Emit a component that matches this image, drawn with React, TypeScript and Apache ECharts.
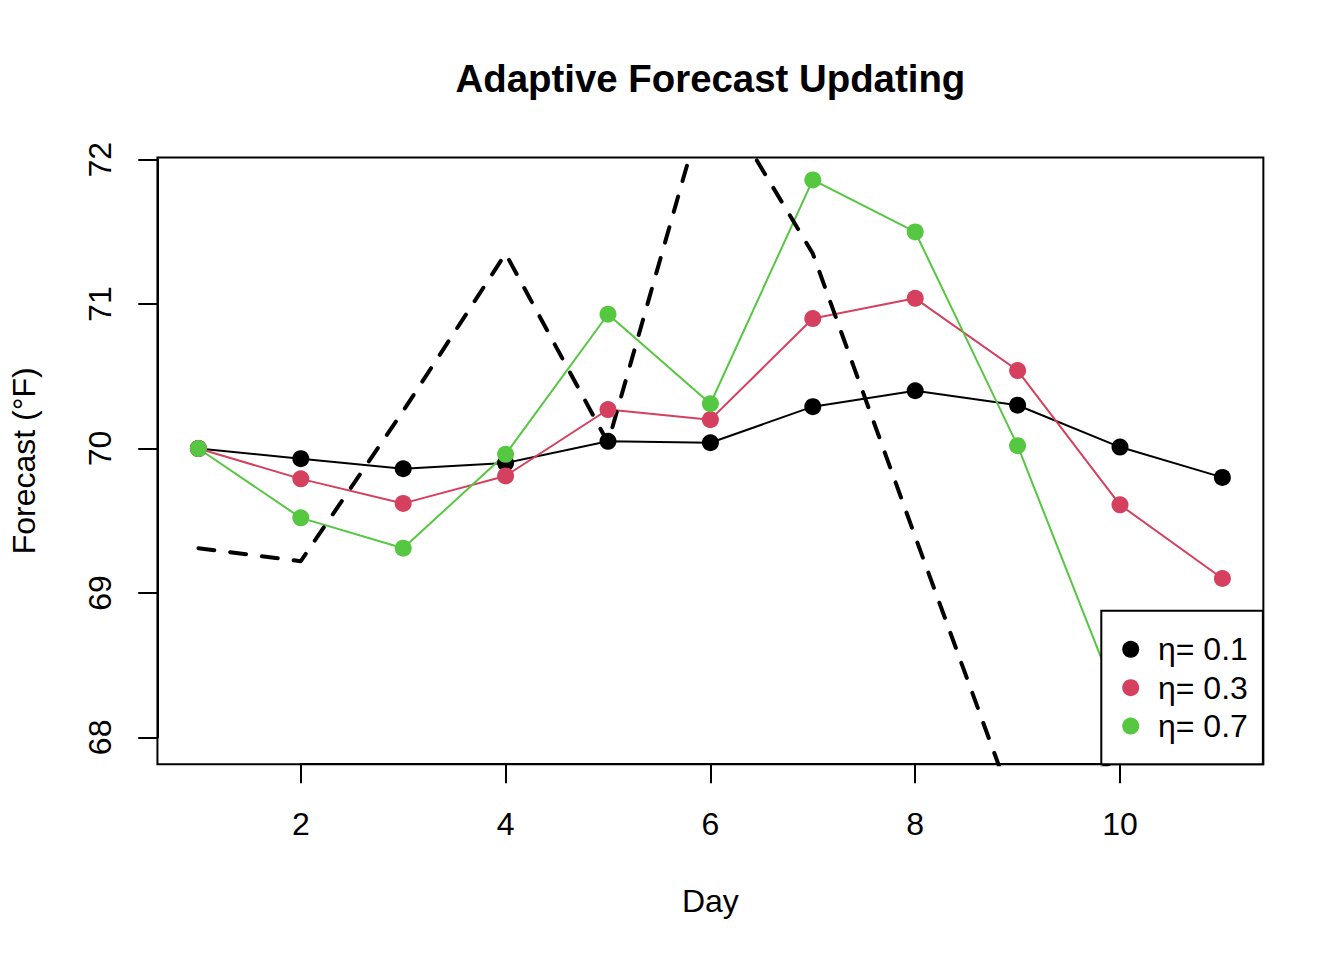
import React, { useEffect, useRef } from "react";
import * as echarts from "echarts";

// ---- data ----
const days = [1, 2, 3, 4, 5, 6, 7, 8, 9, 10, 11];
const eta01 = [70.0, 69.93, 69.86, 69.9, 70.05, 70.04, 70.29, 70.4, 70.3, 70.01, 69.8];
const eta03 = [70.0, 69.79, 69.62, 69.81, 70.27, 70.2, 70.9, 71.04, 70.54, 69.61, 69.1];
const eta07 = [70.0, 69.52, 69.31, 69.96, 70.93, 70.31, 71.86, 71.5, 70.02, 68.22, 67.97];
const actualDays = [1, 2, 3, 4, 5, 6, 7, 8, 9, 10];
const actual = [69.31, 69.22, 70.26, 71.35, 70.04, 72.53, 71.35, 69.39, 67.45, 67.86];
const seriesNames = ["η= 0.1", "η= 0.3", "η= 0.7"];
const seriesColors = ["#000000", "#D5405E", "#55C740"];
const xTicks = [2, 4, 6, 8, 10];
const yTicks = [68, 69, 70, 71, 72];

const FONT = '"Liberation Sans", Arial, Helvetica, sans-serif';

export default function App() {
  const ref = useRef<HTMLDivElement>(null);

  useEffect(() => {
    if (!ref.current) return;
    const chart = echarts.init(ref.current, undefined, { renderer: "svg" });

    const W = 1344;
    const H = 960;
    const LINE = 38.4;
    const plotL = 4.1 * LINE;
    const plotT = 4.1 * LINE;
    const plotR = W - 2.1 * LINE;
    const plotB = H - 5.1 * LINE;

    const xLo = Math.min(...days);
    const xHi = Math.max(...days);
    const xMin = xLo - 0.04 * (xHi - xLo);
    const xMax = xHi + 0.04 * (xHi - xLo);
    const allF = [...eta01, ...eta03, ...eta07];
    const yLo = Math.min(...allF);
    const yHi = Math.max(...allF);
    const yMin = yLo - 0.04 * (yHi - yLo);
    const yMax = yHi + 0.04 * (yHi - yLo);

    const yPix = (v: number) => plotT + ((yMax - v) / (yMax - yMin)) * (plotB - plotT);
    const xPix = (v: number) => plotL + ((v - xMin) / (xMax - xMin)) * (plotR - plotL);

    const yTop = yPix(yTicks[yTicks.length - 1]);
    const yBot = yPix(yTicks[0]);
    const xLeft = xPix(xTicks[0]);
    const xRight = xPix(xTicks[xTicks.length - 1]);

    const axisCommon = {
      axisLine: { show: true, onZero: false, lineStyle: { color: "#000", width: 2 } },
      axisTick: { show: true, length: 19.2, lineStyle: { color: "#000", width: 2 } },
      splitLine: { show: false },
    };

    const legendBoxL = 1101.3;
    const legendBoxT = 610.7;

    const fSeries = [eta01, eta03, eta07].map((vals, k) => ({
      name: seriesNames[k],
      type: "line",
      xAxisIndex: 0,
      yAxisIndex: 0,
      data: days.map((d, i) => [d, vals[i]]),
      symbol: "circle",
      symbolSize: 17,
      lineStyle: { color: seriesColors[k], width: 2, join: "round" },
      itemStyle: { color: seriesColors[k], borderWidth: 0 },
      emphasis: { disabled: true },
      silent: true,
      clip: true,
    }));

    const option: any = {
      animation: false,
      backgroundColor: "#ffffff",
      grid: [
        {
          left: plotL,
          top: plotT,
          width: plotR - plotL,
          height: plotB - plotT,
          show: true,
          borderColor: "#000",
          borderWidth: 2,
          backgroundColor: "transparent",
        },
        { left: plotL, top: yTop, width: plotR - plotL, height: yBot - yTop, show: false },
        { left: xLeft, top: plotT, width: xRight - xLeft, height: plotB - plotT, show: false },
      ],
      xAxis: [
        { gridIndex: 0, type: "value", min: xMin, max: xMax, show: false },
        { gridIndex: 1, type: "value", min: 0, max: 1, show: false },
        {
          gridIndex: 2,
          type: "value",
          position: "bottom",
          min: xTicks[0],
          max: xTicks[xTicks.length - 1],
          interval: 2,
          ...axisCommon,
          axisLabel: { fontSize: 32, color: "#000", margin: 44, fontFamily: FONT },
        },
      ],
      yAxis: [
        { gridIndex: 0, type: "value", min: yMin, max: yMax, show: false },
        {
          gridIndex: 1,
          type: "value",
          position: "left",
          min: yTicks[0],
          max: yTicks[yTicks.length - 1],
          interval: 1,
          ...axisCommon,
          axisLabel: { fontSize: 32, color: "#000", margin: 41, rotate: 90, fontFamily: FONT },
        },
        { gridIndex: 2, type: "value", min: 0, max: 1, show: false },
      ],
      legend: {
        data: seriesNames,
        orient: "vertical",
        left: legendBoxL,
        top: legendBoxT,
        padding: [19.4, 15, 18.9, 20.9],
        itemGap: 0,
        itemWidth: 17,
        itemHeight: 17,
        icon: "circle",
        selectedMode: false,
        backgroundColor: "#ffffff",
        borderColor: "#000",
        borderWidth: 2,
        borderRadius: 0,
        z: 5,
        textStyle: {
          fontSize: 32,
          lineHeight: 38.4,
          color: "#000",
          fontFamily: FONT,
          padding: [0, 0, 0, 13.8],
        },
      },
      graphic: [
        {
          type: "text",
          x: (plotL + plotR) / 2,
          y: 78,
          silent: true,
          style: {
            text: "Adaptive Forecast Updating",
            fontSize: 38.4,
            fontWeight: "bold",
            fontFamily: FONT,
            align: "center",
            verticalAlign: "middle",
            fill: "#000",
          },
        },
        {
          type: "text",
          x: (plotL + plotR) / 2,
          y: 901,
          silent: true,
          style: {
            text: "Day",
            fontSize: 32,
            fontFamily: FONT,
            align: "center",
            verticalAlign: "middle",
            fill: "#000",
          },
        },
        {
          type: "text",
          x: 24,
          y: (plotT + plotB) / 2,
          rotation: Math.PI / 2,
          silent: true,
          style: {
            text: "Forecast (°F)",
            fontSize: 32,
            fontFamily: FONT,
            align: "center",
            verticalAlign: "middle",
            fill: "#000",
          },
        },
      ],
      series: [
        ...fSeries,
        {
          name: "Actual",
          type: "line",
          xAxisIndex: 0,
          yAxisIndex: 0,
          data: actualDays.map((d, i) => [d, actual[i]]),
          symbol: "none",
          lineStyle: { color: "#000", width: 4, type: [16, 16], cap: "round", join: "round" },
          emphasis: { disabled: true },
          silent: true,
          clip: true,
        },
      ],
    };

    chart.setOption(option);
    return () => chart.dispose();
  }, []);

  return (
    <div
      ref={ref}
      style={{ position: "absolute", left: 0, top: 0, width: 1344, height: 960, background: "#fff" }}
    />
  );
}
